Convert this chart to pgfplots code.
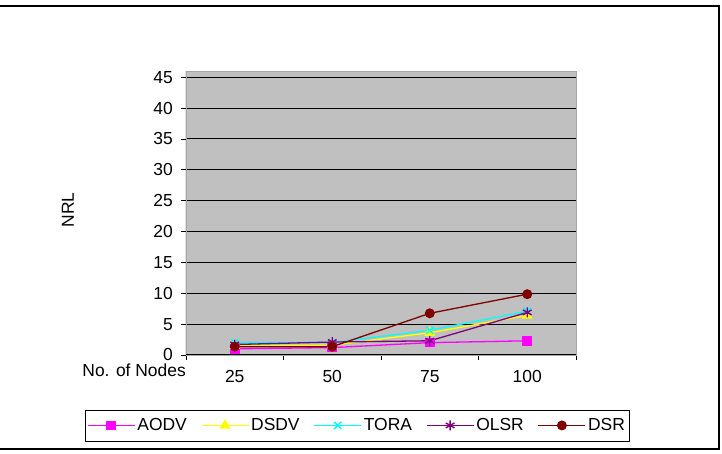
\documentclass[border=0pt]{standalone}
\usepackage{pgfplots}
\pgfplotsset{compat=1.18}
\usepackage{fontspec}
\setmainfont{Liberation Sans}

\definecolor{plotbg}{RGB}{192,192,192}
\definecolor{aodv}{RGB}{255,0,255}
\definecolor{dsdv}{RGB}{255,255,0}
\definecolor{tora}{RGB}{0,255,255}
\definecolor{olsr}{RGB}{128,0,128}
\definecolor{dsr}{RGB}{128,0,0}

\newcommand{\chartfont}{\fontsize{17.5}{20}\selectfont}

\begin{document}
\begin{tikzpicture}[x=1bp,y=1bp]
  % page extent and outer chart frame
  \useasboundingbox (-186,-99) rectangle (536,355);
  \draw[line width=1.2bp] (-190,349) -- (533,349) -- (533,-94) -- (-190,-94);
  \begin{axis}[
    at={(0,0)}, anchor=origin,
    scale only axis,
    width=390bp, height=284bp,
    xmin=0, xmax=4, ymin=0, ymax=46,
    axis background/.style={fill=plotbg},
    axis line style={draw=gray!70, line width=0.8bp},
    tick pos=left,
    xtick={0.5,1.5,2.5,3.5},
    xticklabels={25,50,75,100},
    minor xtick={0,1,2,3,4},
    major x tick style={draw=none},
    minor x tick style={black, line width=0.8bp},
    ytick={0,5,...,45},
    y tick style={black, line width=0.8bp},
    tick align=outside,
    major tick length=5bp,
    minor tick length=5bp,
    ymajorgrids,
    major grid style={black, line width=0.9bp},
    /pgf/number format/assume math mode=true,
    tick label style={font=\chartfont},
    xticklabel style={anchor=base, yshift=-23bp, inner sep=0pt},
    yticklabel style={anchor=east, inner sep=0pt, xshift=-8bp},
    ylabel={NRL},
    ylabel style={font=\chartfont, at={(axis description cs:-0.3026,0.5106)}, anchor=center, rotate=0},
    xlabel={No. of Nodes},
    xlabel style={font=\chartfont, at={(axis description cs:0,-0.0546)}, anchor=east, inner sep=0pt},
    legend columns=5,
    legend style={font=\chartfont, draw=black,
      at={(axis description cs:0.4385,-0.248)}, anchor=center,
      inner xsep=2bp, inner ysep=6.5bp,
      /tikz/every even column/.append style={column sep=12bp}},
    legend image code/.code={%
      \draw[#1, mark=none, line width=1.3bp] (0bp,0bp) -- (47bp,0bp);
      \draw[#1, only marks] plot coordinates {(23.5bp,0bp)};},
    every axis plot/.append style={line width=1.3bp},
  ]
    \addplot[aodv, mark=square*, mark size=4.2bp, mark options={solid, fill=aodv, draw=aodv}]
      coordinates {(0.5,1.0) (1.5,1.2) (2.5,2.0) (3.5,2.3)};
    \addlegendentry{AODV}
    \addplot[dsdv, mark=triangle*, mark size=5bp, mark options={solid, fill=dsdv, draw=dsdv}]
      coordinates {(0.5,1.5) (1.5,1.6) (2.5,3.6) (3.5,6.4)};
    \addlegendentry{DSDV}
    \addplot[tora, mark=x, mark size=5bp, mark options={solid, line width=1.4bp}]
      coordinates {(0.5,2.0) (1.5,2.0) (2.5,4.0) (3.5,7.1)};
    \addlegendentry{TORA}
    \addplot[olsr, mark=asterisk, mark size=5bp, mark options={solid, line width=1.4bp}]
      coordinates {(0.5,1.7) (1.5,2.1) (2.5,2.3) (3.5,6.9)};
    \addlegendentry{OLSR}
    \addplot[dsr, mark=*, mark size=4.3bp, mark options={solid, fill=dsr, draw=dsr}]
      coordinates {(0.5,1.35) (1.5,1.35) (2.5,6.75) (3.5,9.85)};
    \addlegendentry{DSR}
    % left and bottom axis lines in black
    \draw[black, line width=1bp] (rel axis cs:0,1) -- (rel axis cs:0,0) -- (rel axis cs:1,0);
  \end{axis}
\end{tikzpicture}
\end{document}
